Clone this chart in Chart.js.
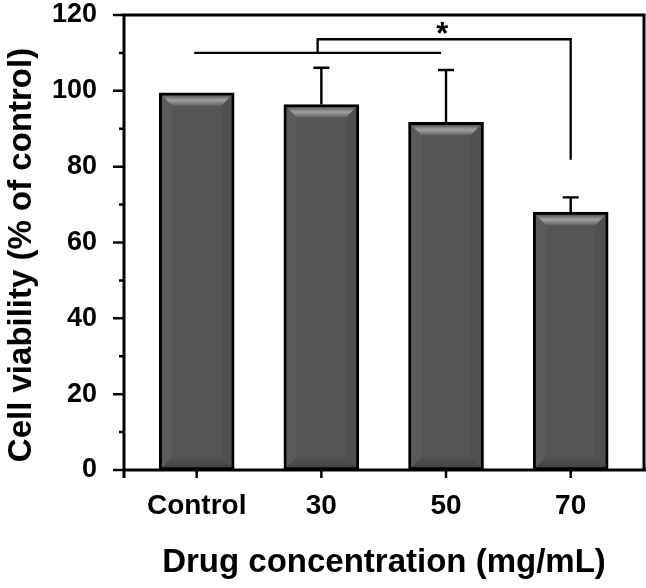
<!DOCTYPE html>
<html><head><meta charset="utf-8">
<script src="https://cdn.jsdelivr.net/npm/chart.js@4"></script>
<style>html,body{margin:0;padding:0;background:#fff}</style>
</head><body>
<canvas id="c" width="646" height="588"></canvas>
<script>
const categories = ['Control', '30', '50', '70'];
const viability = [99.5, 96.4, 91.7, 68.0];
const errorUp = [0, 9.7, 13.8, 3.9];
const groupLine = [[-0.02, 110], [1.96, 110]];
const bracket = [[0.97, 110], [0.97, 113.6], [3.0, 113.6], [3.0, 81.8]];
const star = { x: 1.97, y: 116.5, text: '*' };
const xTitle = 'Drug concentration (mg/mL)';
const yTitle = 'Cell viability (% of control)';

const FONT = '"Liberation Sans", Arial, Helvetica, sans-serif';

const deco = {
  id: 'deco',
  afterDatasetsDraw(chart) {
    const ctx = chart.ctx;
    const ys = chart.scales.y;
    const meta = chart.getDatasetMeta(0);
    ctx.save();
    meta.data.forEach((bar, i) => {
      const p = bar.getProps(['x', 'y', 'base', 'width'], true);
      const bw = 3, d = 10;
      const l = p.x - p.width / 2 + bw, r = p.x + p.width / 2 - bw;
      const t = p.y + bw, b = p.base - bw;
      ctx.fillStyle = '#5b5b5b';
      ctx.beginPath(); ctx.moveTo(l, t); ctx.lineTo(l + d, t + d); ctx.lineTo(l + d, b - d); ctx.lineTo(l, b); ctx.closePath(); ctx.fill();
      ctx.fillStyle = '#505050';
      ctx.beginPath(); ctx.moveTo(r, t); ctx.lineTo(r - d, t + d); ctx.lineTo(r - d, b - d); ctx.lineTo(r, b); ctx.closePath(); ctx.fill();
      let g = ctx.createLinearGradient(0, b - d, 0, b);
      g.addColorStop(0, '#535353'); g.addColorStop(1, '#444444');
      ctx.fillStyle = g;
      ctx.beginPath(); ctx.moveTo(l, b); ctx.lineTo(l + d, b - d); ctx.lineTo(r - d, b - d); ctx.lineTo(r, b); ctx.closePath(); ctx.fill();
      g = ctx.createLinearGradient(0, t, 0, t + d);
      g.addColorStop(0, '#5e5e5e'); g.addColorStop(0.45, '#a0a0a0'); g.addColorStop(0.65, '#8a8a8a'); g.addColorStop(1, '#636363');
      ctx.fillStyle = g;
      ctx.beginPath(); ctx.moveTo(l, t); ctx.lineTo(r, t); ctx.lineTo(r - d, t + d); ctx.lineTo(l + d, t + d); ctx.closePath(); ctx.fill();
      if (errorUp[i] > 0) {
        const top = ys.getPixelForValue(viability[i] + errorUp[i]);
        ctx.strokeStyle = '#000'; ctx.lineWidth = 2.4;
        ctx.beginPath();
        ctx.moveTo(p.x, p.y); ctx.lineTo(p.x, top);
        ctx.moveTo(p.x - 8, top); ctx.lineTo(p.x + 8, top);
        ctx.stroke();
      }
    });
    ctx.restore();
  },
  afterDraw(chart) {
    const ctx = chart.ctx;
    const xs = chart.scales.x, ys = chart.scales.y;
    const a = chart.chartArea;
    ctx.save();
    ctx.strokeStyle = '#000';
    ctx.lineCap = 'butt';
    ctx.lineWidth = 3;
    ctx.beginPath();
    ctx.moveTo(a.left, a.bottom + 8); ctx.lineTo(a.left, a.top); ctx.lineTo(a.right, a.top); ctx.lineTo(a.right, a.bottom);
    ctx.moveTo(a.left - 1.5, a.bottom); ctx.lineTo(chart.width, a.bottom);
    ctx.stroke();
    ctx.lineWidth = 2.5;
    ctx.beginPath();
    ys.ticks.forEach(t => {
      const py = ys.getPixelForValue(t.value);
      const len = (t.value % 20 === 0) ? 11 : 5;
      ctx.moveTo(a.left - len, py); ctx.lineTo(a.left, py);
    });
    xs.ticks.forEach(t => {
      const px = xs.getPixelForValue(t.value);
      ctx.moveTo(px, a.bottom); ctx.lineTo(px, a.bottom + 8);
    });
    ctx.stroke();
    ctx.lineWidth = 2.3;
    ctx.beginPath();
    ctx.moveTo(xs.getPixelForValue(groupLine[0][0]), ys.getPixelForValue(groupLine[0][1]));
    ctx.lineTo(xs.getPixelForValue(groupLine[1][0]), ys.getPixelForValue(groupLine[1][1]));
    bracket.forEach((pt, k) => {
      const px = xs.getPixelForValue(pt[0]), py = ys.getPixelForValue(pt[1]);
      if (k === 0) ctx.moveTo(px, py); else ctx.lineTo(px, py);
    });
    ctx.stroke();
    ctx.fillStyle = '#000';
    ctx.font = 'bold 31px ' + FONT;
    ctx.textAlign = 'center';
    ctx.textBaseline = 'middle';
    ctx.fillText(star.text, xs.getPixelForValue(star.x), ys.getPixelForValue(star.y) + 7);
    ctx.font = 'bold 33px ' + FONT;
    ctx.textBaseline = 'alphabetic';
    ctx.fillText(xTitle, (a.left + a.right) / 2, 572);
    ctx.save();
    ctx.translate(31, 255);
    ctx.rotate(-Math.PI / 2);
    ctx.fillText(yTitle, 0, 0);
    ctx.restore();
    ctx.restore();
  }
};

new Chart(document.getElementById('c'), {
  type: 'bar',
  data: {
    datasets: [{
      data: categories.map((c, i) => ({ x: i, y: viability[i] })),
      backgroundColor: '#555555',
      borderColor: '#000000',
      borderWidth: 3,
      borderSkipped: false,
      barThickness: 75
    }]
  },
  options: {
    responsive: false,
    animation: false,
    layout: { padding: { top: 15, right: 2, left: 0, bottom: 0 } },
    plugins: { legend: { display: false }, tooltip: { enabled: false } },
    scales: {
      x: {
        type: 'linear',
        offset: false,
        min: -0.583,
        max: 3.588,
        grid: { display: false, drawTicks: false },
        border: { display: false },
        afterBuildTicks: s => { s.ticks = categories.map((c, i) => ({ value: i })); },
        afterFit: s => { s.height = 118; s.paddingLeft = 0; s.paddingRight = 0; },
        ticks: {
          autoSkip: false, maxRotation: 0, padding: 19, color: '#000',
          font: { family: FONT, weight: 'bold', size: 28 },
          callback: v => categories[v] !== undefined ? categories[v] : ''
        }
      },
      y: {
        min: 0, max: 120,
        grid: { display: false, drawTicks: false },
        border: { display: false },
        afterFit: s => { s.width = 124; s.paddingTop = 0; s.paddingBottom = 0; },
        ticks: {
          stepSize: 10, autoSkip: false, padding: 27, color: '#000',
          font: { family: FONT, weight: 'bold', size: 27 },
          callback: v => (v % 20 === 0 ? String(v) : '')
        }
      }
    }
  },
  plugins: [deco]
});
</script>
</body></html>
